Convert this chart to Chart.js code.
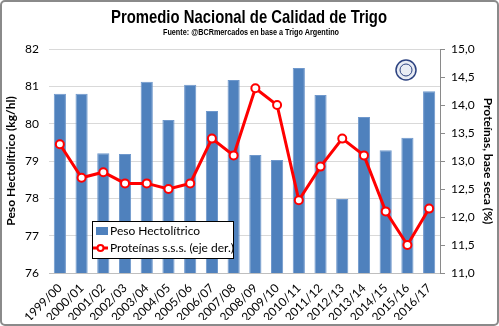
<!DOCTYPE html>
<html>
<head>
<meta charset="utf-8">
<script src="https://cdn.jsdelivr.net/npm/chart.js@4"></script>
<style>
  html, body { margin: 0; padding: 0; background: #fff; }
  #wrap { width: 499px; height: 326px; }
</style>
</head>
<body>
<div id="wrap"><canvas id="myChart" width="499" height="326"></canvas></div>
<script>
// campaigns on the x axis
const campaigns = ['1999/00', '2000/01', '2001/02', '2002/03', '2003/04', '2004/05', '2005/06',
  '2006/07', '2007/08', '2008/09', '2009/10', '2010/11', '2011/12', '2012/13', '2013/14',
  '2014/15', '2015/16', '2016/17'];
// peso hectolitrico (kg/hl), left axis
const pesoHectolitrico = [80.8, 80.8, 79.21, 79.19, 81.12, 80.1, 81.04, 80.34, 81.17,
  79.16, 79.03, 81.49, 80.77, 77.98, 80.18, 79.29, 79.62, 80.87];
// proteinas base seca (%), right axis
const proteinas = [13.3, 12.7, 12.8, 12.6, 12.6, 12.5, 12.6, 13.4, 13.1,
  14.3, 14.0, 12.3, 12.9, 13.4, 13.1, 12.1, 11.5, 12.15];

const titleText = 'Promedio Nacional de Calidad de Trigo';
const subtitleText = 'Fuente: @BCRmercados en base a Trigo Argentino';

const tickFont = { family: 'Lato, "Open Sans", sans-serif', size: 12 };

// condensed bold text: squeeze a normal bold face to the wanted width
function squeezedText(c, text, cx, baseline, size, width) {
  c.save();
  c.font = 'bold ' + size + 'px "Liberation Sans", Arial, sans-serif';
  c.fillStyle = '#000';
  c.textAlign = 'center';
  c.textBaseline = 'alphabetic';
  const k = width / c.measureText(text).width;
  c.translate(cx, baseline);
  c.scale(k, 1);
  c.fillText(text, 0, 0);
  c.restore();
}

// white background, titles, grey frame and the little logo
const frame = {
  id: 'frame',
  beforeDraw(chart) {
    const c = chart.ctx;
    c.save();
    c.fillStyle = '#fff';
    c.fillRect(0, 0, chart.width, chart.height);
    c.restore();
  },
  afterDraw(chart) {
    const c = chart.ctx;
    squeezedText(c, titleText, 249, 23, 19, 276);
    squeezedText(c, subtitleText, 251, 35, 9, 176);
    c.save();
    c.strokeStyle = '#8a8a8a';
    c.lineWidth = 2;
    c.beginPath();
    c.roundRect(1, 1, chart.width - 2, chart.height - 2, 4);
    c.stroke();
    // logo
    c.beginPath();
    c.arc(406, 70, 10, 0, Math.PI * 2);
    c.fillStyle = '#e8ecf4';
    c.fill();
    c.lineWidth = 1.5;
    c.strokeStyle = '#2c4280';
    c.stroke();
    c.beginPath();
    c.arc(406, 70, 6, 0, Math.PI * 2);
    c.lineWidth = 1;
    c.stroke();
    c.restore();
  }
};

// legend box drawn inside the plot area
const boxLegend = {
  id: 'boxLegend',
  afterDraw(chart) {
    const c = chart.ctx;
    const x = 92, y = 221, w = 141, h = 37;
    const bars = chart.data.datasets[1], line = chart.data.datasets[0];
    c.save();
    c.fillStyle = '#fff';
    c.fillRect(x, y, w, h);
    c.strokeStyle = '#000';
    c.lineWidth = 1;
    c.strokeRect(x + 0.5, y + 0.5, w, h);
    c.fillStyle = bars.backgroundColor;
    c.fillRect(x + 4, y + 6, 12, 8);
    c.fillStyle = '#000';
    c.font = '12px Lato, "Open Sans", sans-serif';
    c.textBaseline = 'middle';
    c.fillText(bars.label, x + 18, y + 10);
    c.strokeStyle = line.borderColor;
    c.lineWidth = 3;
    c.beginPath();
    c.moveTo(x + 1, y + 27);
    c.lineTo(x + 16, y + 27);
    c.stroke();
    c.beginPath();
    c.arc(x + 8.5, y + 27, 3, 0, Math.PI * 2);
    c.fillStyle = '#fff';
    c.fill();
    c.lineWidth = 2;
    c.stroke();
    c.fillStyle = '#000';
    c.fillText(line.label, x + 18, y + 27);
    c.restore();
  }
};

const ctx = document.getElementById('myChart').getContext('2d');
const myChart = new Chart(ctx, {
  data: {
    labels: campaigns,
    datasets: [{
      type: 'line',
      label: 'Proteínas s.s.s. (eje der.)',
      data: proteinas,
      yAxisID: 'y2',
      borderColor: '#ff0000',
      borderWidth: 3,
      pointRadius: 4,
      pointBorderWidth: 2,
      pointBackgroundColor: '#fff',
      pointBorderColor: '#ff0000',
      tension: 0,
      order: 0
    }, {
      type: 'bar',
      label: 'Peso Hectolítrico',
      data: pesoHectolitrico,
      yAxisID: 'y',
      backgroundColor: '#4f81bd',
      borderColor: '#6f98cc',
      borderWidth: 1,
      barPercentage: 0.56,
      categoryPercentage: 1,
      order: 1
    }]
  },
  options: {
    responsive: false,
    animation: false,
    layout: { padding: { top: 49, left: 4, right: 4, bottom: 6 } },
    plugins: {
      legend: { display: false },
      tooltip: { enabled: false }
    },
    scales: {
      x: {
        grid: { display: false },
        border: { color: '#bfbfbf' },
        ticks: { font: tickFont, color: '#000', maxRotation: 45, minRotation: 45, padding: 0, autoSkip: false },
        afterFit(scale) { scale.height = 47; }
      },
      y: {
        position: 'left',
        min: 76, max: 82,
        ticks: { stepSize: 1, font: tickFont, color: '#000', padding: 10 },
        grid: { color: '#d9d9d9', drawTicks: false },
        border: { display: false },
        title: {
          display: true,
          text: 'Peso Hectolítrico (kg/hl)',
          color: '#000',
          font: { family: 'Lato, "Open Sans", sans-serif', size: 12, weight: 'bold' },
          padding: 0
        },
        afterFit(scale) { scale.width = 45; }
      },
      y2: {
        position: 'right',
        min: 11, max: 15,
        ticks: {
          stepSize: 0.5, font: tickFont, color: '#000', padding: 6,
          callback: v => v.toFixed(1).replace('.', ',')
        },
        grid: { drawOnChartArea: false, color: '#8a8a8a', tickLength: 5 },
        border: { color: '#8a8a8a' },
        title: {
          display: true,
          text: 'Proteínas, base seca (%)',
          color: '#000',
          font: { family: 'Lato, "Open Sans", sans-serif', size: 12, weight: 'bold' },
          padding: 0
        },
        afterFit(scale) { scale.width = 55; }
      }
    }
  },
  plugins: [frame, boxLegend]
});
</script>
</body>
</html>
